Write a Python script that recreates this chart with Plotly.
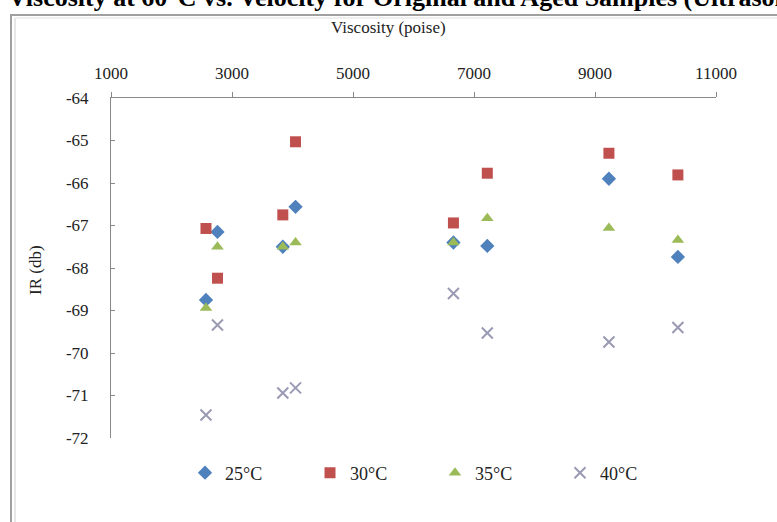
import plotly.graph_objects as go

viscosity = [2570, 2760, 3840, 4050, 6660, 7220, 9230, 10370]
series_names = ["25°C", "30°C", "35°C", "40°C"]
ir_25 = [-68.75, -67.15, -67.5, -66.56, -67.4, -67.48, -65.9, -67.74]
ir_30 = [-67.07, -68.24, -66.75, -65.03, -66.94, -65.77, -65.3, -65.81]
ir_35 = [-68.94, -67.5, -67.5, -67.4, -67.4, -66.83, -67.06, -67.34]
ir_40 = [-71.46, -69.34, -70.94, -70.82, -68.6, -69.53, -69.74, -69.4]

x_ticks = [1000, 3000, 5000, 7000, 9000, 11000]
x_labels = ["1000", "3000", "5000", "7000", "9000", "11000"]
y_ticks = [-64, -65, -66, -67, -68, -69, -70, -71, -72]
y_labels = ["-64", "-65", "-66", "-67", "-68", "-69", "-70", "-71", "-72"]

FONT = "Liberation Serif"

styles = [
    dict(symbol="diamond", color="#4F81BD", size=11, line=dict(width=0)),
    dict(symbol="square", color="#C0504D", size=11, line=dict(width=0)),
    dict(symbol="triangle-up", color="#9BBB59", size=11, line=dict(width=0)),
    dict(symbol="x-thin", color="#9a9ab4", size=11, line=dict(width=2, color="#9a9ab4")),
]

fig = go.Figure()
for name, vals, st in zip(series_names, [ir_25, ir_30, ir_35, ir_40], styles):
    fig.add_trace(go.Scatter(x=viscosity, y=vals, mode="markers", name=name,
                             marker=st))

W, H = 777, 522
L, R, T, B = 111, 61, 98, 84
pw, ph = W - L - R, H - T - B

def px(x):
    return (x - L) / pw

def py(y):
    return (H - B - y) / ph

fig.update_layout(
    width=W, height=H,
    margin=dict(l=L, r=R, t=T, b=B),
    paper_bgcolor="white", plot_bgcolor="white",
    font=dict(family=FONT, size=16, color="#222"),
    xaxis=dict(range=[1000, 11000], side="top", tickvals=x_ticks, ticktext=x_labels,
               showgrid=False, zeroline=False, showline=True,
               linecolor="#888", linewidth=1, ticks="outside", ticklen=5,
               tickcolor="#888", tickfont=dict(size=17, family=FONT), ticklabelstandoff=6),
    yaxis=dict(range=[-72, -64], tickvals=y_ticks, ticktext=y_labels, showgrid=False,
               zeroline=False, showline=True, linecolor="#888", linewidth=1,
               ticks="inside", ticklen=4, tickcolor="#888",
               tickfont=dict(size=17, family=FONT), ticklabelstandoff=18),
    legend=dict(orientation="h", x=px(185), y=py(473), xanchor="left", yanchor="middle",
                font=dict(size=18, family=FONT), entrywidth=80, entrywidthmode="pixels",
                itemwidth=30, bgcolor="rgba(0,0,0,0)", tracegroupgap=0),
    showlegend=True,
)

fig.add_annotation(text="Viscosity (poise)", xref="paper", yref="paper",
                   x=px(388), y=py(27), xanchor="center", yanchor="middle",
                   showarrow=False, font=dict(size=17, family=FONT, color="#222"))
fig.add_annotation(text="IR (db)", xref="paper", yref="paper",
                   x=px(35), y=py(270), xanchor="center", yanchor="middle",
                   textangle=-90, showarrow=False,
                   font=dict(size=17, family=FONT, color="#222"))
fig.add_annotation(text="Viscosity at 60°C vs. Velocity for Original and Aged Samples (Ultrasonic)",
                   xref="paper", yref="paper", x=px(6), y=py(-2), xanchor="left",
                   yanchor="middle", showarrow=False,
                   font=dict(size=26, family=FONT, color="black", weight="bold"))

# chart frame
fig.add_shape(type="rect", xref="paper", yref="paper",
              x0=px(11), x1=px(790), y0=py(540), y1=py(15),
              line=dict(color="#a0a0a0", width=2), layer="below")
fig.add_shape(type="line", xref="paper", yref="paper",
              x0=px(15), x1=px(15), y0=py(540), y1=py(18),
              line=dict(color="#d0d0d0", width=1), layer="below")
fig.add_shape(type="line", xref="paper", yref="paper",
              x0=px(15), x1=px(790), y0=py(18), y1=py(18),
              line=dict(color="#e0e0e0", width=1), layer="below")

fig.write_html("out.html", config={"displayModeBar": False},
               post_script="document.body.style.margin='0';")
